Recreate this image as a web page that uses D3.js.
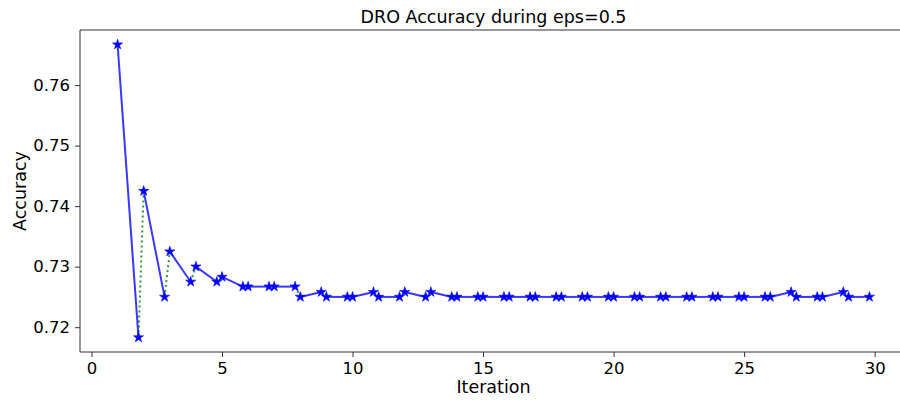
<!DOCTYPE html>
<html><head><meta charset="utf-8">
<script src="https://cdn.jsdelivr.net/npm/d3@7"></script>
<style>body{margin:0;background:#fff}text{font-family:"DejaVu Sans",sans-serif}</style>
</head><body><svg id="c" width="900" height="403"></svg>
<script>
// Iterations; each iteration has a start point (i) and end point (i + 0.8)
const iterations = d3.range(1, 30);
const startAcc = [0.7667,0.7425,0.7325,0.7300,0.7283,0.7267,0.7267,0.7250,0.7250,0.7250,
                  0.7250,0.7258,0.7258,0.7250,0.7250,0.7250,0.7250,0.7250,0.7250,0.7250,
                  0.7250,0.7250,0.7250,0.7250,0.7250,0.7250,0.7250,0.7250,0.7250];
const endAcc   = [0.7183,0.7250,0.7275,0.7275,0.7267,0.7267,0.7267,0.7258,0.7250,0.7258,
                  0.7250,0.7250,0.7250,0.7250,0.7250,0.7250,0.7250,0.7250,0.7250,0.7250,
                  0.7250,0.7250,0.7250,0.7250,0.7250,0.7258,0.7250,0.7258,0.7250];
const xTicks = [0,5,10,15,20,25,30];
const yTicks = [0.72,0.73,0.74,0.75,0.76];
const stepLen = 0.8;

const svg = d3.select("#c");
const L=80, T=30, R=907, B=352;
const x = d3.scaleLinear().domain([-0.44, 31.24]).range([L, R]);
const y = d3.scaleLinear().domain([0.7159, 0.7691]).range([B, T]);

svg.append("defs").append("clipPath").attr("id","clip")
  .append("rect").attr("x",L).attr("y",T).attr("width",900-L).attr("height",B-T);

const g = svg.append("g").attr("clip-path","url(#clip)");
const line = d3.line().x(d=>x(d[0])).y(d=>y(d[1]));

// green dotted transitions end_i -> start_{i+1}
iterations.slice(0,-1).forEach((it,k)=>{
  g.append("path").attr("d", line([[it+stepLen, endAcc[k]],[iterations[k+1], startAcc[k+1]]]))
    .attr("fill","none").attr("stroke","#008000").attr("stroke-opacity",0.8).attr("stroke-width",2)
    .attr("stroke-dasharray","2,3");
});
// blue segments
iterations.forEach((it,k)=>{
  g.append("path").attr("d", line([[it, startAcc[k]],[it+stepLen, endAcc[k]]]))
    .attr("fill","none").attr("stroke","#0000ff").attr("stroke-opacity",0.78).attr("stroke-width",2);
});
const star = d3.symbol().type(d3.symbolStar).size(32);
iterations.forEach((it,k)=>{
  [[it,startAcc[k]],[it+stepLen,endAcc[k]]].forEach(p=>{
    g.append("path").attr("d",star()).attr("transform",`translate(${x(p[0])},${y(p[1])})`)
      .attr("fill","#0000ff").attr("stroke","#0000ff").attr("stroke-width",0.6);
  });
});

// frame (spines)
const spine = "#333";
svg.append("line").attr("x1",L).attr("x2",L).attr("y1",T).attr("y2",B).attr("stroke",spine).attr("stroke-width",1);
svg.append("line").attr("x1",L).attr("x2",900).attr("y1",B).attr("y2",B).attr("stroke",spine).attr("stroke-width",1);
svg.append("line").attr("x1",L).attr("x2",900).attr("y1",T).attr("y2",T).attr("stroke",spine).attr("stroke-width",1);

// axes
const xa = svg.append("g").attr("transform",`translate(0,${B})`)
  .call(d3.axisBottom(x).tickValues(xTicks).tickFormat(d3.format("d")).tickSize(5).tickPadding(5));
const ya = svg.append("g").attr("transform",`translate(${L},0)`)
  .call(d3.axisLeft(y).tickValues(yTicks).tickFormat(d3.format(".2f")).tickSize(5).tickPadding(5));
[xa,ya].forEach(a=>{
  a.select(".domain").remove();
  a.selectAll("line").attr("stroke","#333");
  a.selectAll("text").attr("font-size",16.5).attr("fill","#000").attr("font-family","DejaVu Sans");
});

svg.append("text").attr("x",(L+907)/2).attr("y",23).attr("text-anchor","middle")
  .attr("font-size",17.5).attr("fill","#000").text("DRO Accuracy during eps=0.5");
svg.append("text").attr("x",(L+907)/2).attr("y",393).attr("text-anchor","middle")
  .attr("font-size",17.5).attr("fill","#000").text("Iteration");
svg.append("text").attr("transform",`translate(26,${(T+B)/2}) rotate(-90)`).attr("text-anchor","middle")
  .attr("font-size",17.5).attr("fill","#000").text("Accuracy");
</script></body></html>
